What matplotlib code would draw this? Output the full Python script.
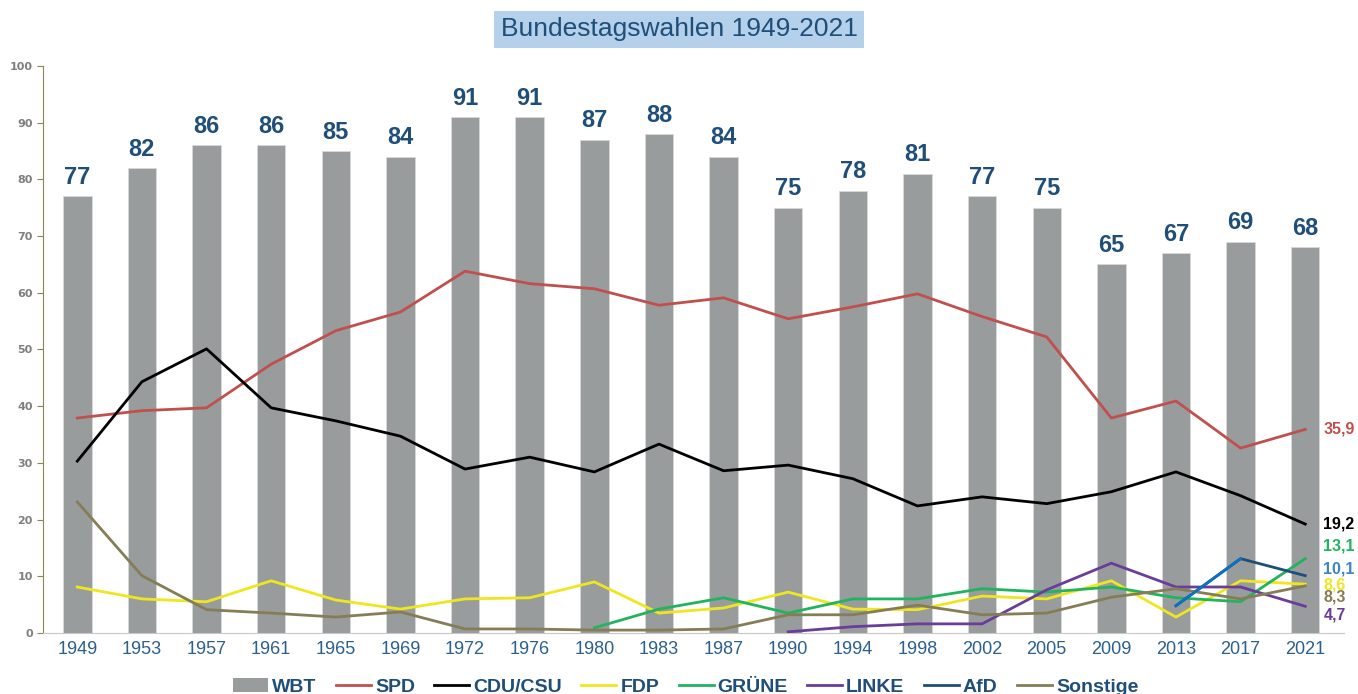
import matplotlib.pyplot as plt
import numpy as np
from matplotlib.patches import Patch
from matplotlib.lines import Line2D

# Liberation Sans is narrower than DejaVu, closer to the condensed original
narrow = 'Liberation Sans'

years = ['1949', '1953', '1957', '1961', '1965', '1969', '1972', '1976', '1980', '1983',
         '1987', '1990', '1994', '1998', '2002', '2005', '2009', '2013', '2017', '2021']
wbt = [77, 82, 86, 86, 85, 84, 91, 91, 87, 88, 84, 75, 78, 81, 77, 75, 65, 67, 69, 68]

spd = [37.9, 39.2, 39.7, 47.4, 53.3, 56.6, 63.8, 61.6, 60.7, 57.8,
       59.1, 55.4, 57.5, 59.8, 55.8, 52.2, 37.9, 40.9, 32.6, 35.9]
cdu = [30.3, 44.3, 50.1, 39.7, 37.4, 34.7, 28.9, 31.0, 28.4, 33.3,
       28.6, 29.6, 27.2, 22.4, 24.0, 22.8, 24.9, 28.4, 24.2, 19.2]
fdp = [8.1, 6.0, 5.5, 9.2, 5.8, 4.2, 6.0, 6.2, 9.0, 3.5,
       4.4, 7.2, 4.2, 4.1, 6.5, 6.0, 9.2, 2.8, 9.2, 8.6]
gruene = [None] * 8 + [0.9, 4.2, 6.2, 3.5, 6.0, 6.0, 7.8, 7.2, 8.1, 6.2, 5.5, 13.1]
linke = [None] * 11 + [0.2, 1.1, 1.6, 1.6, 7.6, 12.3, 8.1, 8.1, 4.7]
afd = [None] * 17 + [4.8, 13.1, 10.1]
sonstige = [23.1, 10.1, 4.1, 3.5, 2.8, 3.7, 0.7, 0.7, 0.5, 0.5,
            0.7, 3.2, 3.2, 4.9, 3.2, 3.5, 6.3, 7.8, 6.0, 8.3]

names_s = ['SPD', 'CDU/CSU', 'FDP', 'GRÜNE', 'LINKE', 'AfD', 'Sonstige']
series = [spd, cdu, fdp, gruene, linke, afd, sonstige]
colors = ['#c0504d', '#000000', '#f0e620', '#22b35e', '#6a3d9a', '#1f4e79', '#857d55']
label_colors = ['#c0504d', '#000000', '#22b35e', '#3d85c6', '#f0e620', '#857d55', '#6a3d9a']
# end labels: value, nudge in data units so they don't overlap
end_vals = ['35,9', '19,2', '13,1', '10,1', '8,6', '8,3', '4,7']
end_y = [35.9, 19.2, 13.1, 10.1, 8.6, 8.3, 4.7]
end_nudge = [0, 0, 2.2, 1.2, -0.1, -2.0, -1.5]

blue = '#1f4e79'

fig = plt.figure(figsize=(13.58, 6.94), dpi=100)
ax = fig.add_axes([0.0317, 0.088, 0.958, 0.817])

x = np.arange(len(years))
ax.bar(x, wbt, width=0.44, color='#999c9d', edgecolor='#d8d8d8', linewidth=0.6, zorder=1)
for xi, v in zip(x, wbt):
    ax.text(xi, v + 1.3, str(v), ha='center', va='bottom', fontsize=17,
            fontweight='bold', color=blue, family=narrow)

for s, c in zip(series, colors):
    ys = np.array([np.nan if v is None else v for v in s], dtype=float)
    ax.plot(x, ys, color=c, lw=2.0, zorder=3)
# first AfD segment is drawn in a lighter blue in the original
afd_arr = np.array([np.nan if v is None else v for v in afd], dtype=float)
ax.plot(x[17:19], afd_arr[17:19], color='#0a72c2', lw=2.0, zorder=3)

for t, yv, dn, c in zip(end_vals, end_y, end_nudge, label_colors):
    ax.text(19.28, yv + dn, t, ha='left', va='center', fontsize=11.5,
            fontweight='bold', color=c, family=narrow)

ax.set_xlim(-0.53, 19.6)
ax.set_ylim(0, 100)
ax.set_yticks(range(0, 101, 10))
ax.set_xticks(x)
ax.set_xticklabels(years, fontsize=13, color='#2a5f8f', family=narrow)
ax.tick_params(axis='x', length=0, pad=6)
ax.tick_params(axis='y', length=4, color='#8b8455', labelsize=8, labelcolor='#7f7f7f')
for lab in ax.get_yticklabels():
    lab.set_fontweight('bold')
for sp in ['top', 'right']:
    ax.spines[sp].set_visible(False)
ax.spines['left'].set_color('#8b8455')
ax.spines['bottom'].set_color('#c8c8c8')

fig.text(0.5, 0.958, 'Bundestagswahlen 1949-2021', ha='center', va='center',
         fontsize=19, color=blue, family=narrow,
         bbox=dict(boxstyle='square,pad=0.25', facecolor='#b4d0ea', edgecolor='none'))

handles = [Patch(facecolor='#999c9d', label='WBT')]
for n, c in zip(names_s, colors):
    handles.append(Line2D([0], [0], color=c, lw=2, label=n))
leg = fig.legend(handles=handles, loc='center', bbox_to_anchor=(0.505, 0.01), ncol=8,
                 frameon=False, handlelength=1.8, handletextpad=0.2, columnspacing=1.0,
                 prop={'size': 14, 'weight': 'bold', 'family': narrow})
for t in leg.get_texts():
    t.set_color(blue)

fig.savefig('out.png', dpi=100)
